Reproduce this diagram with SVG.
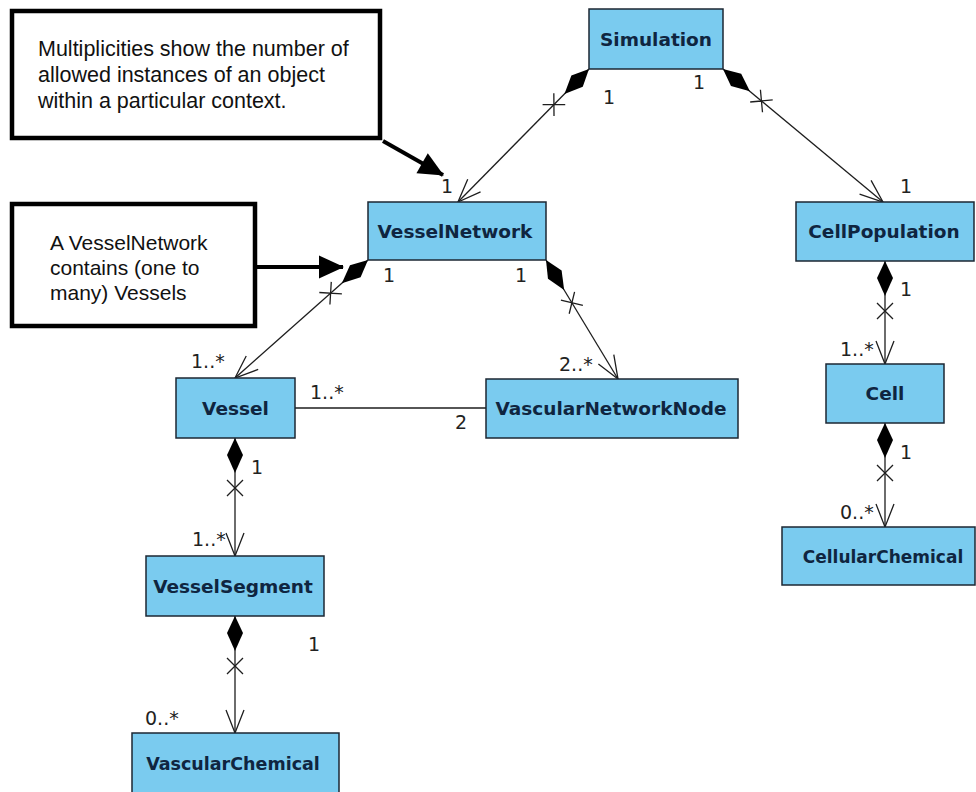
<svg xmlns="http://www.w3.org/2000/svg" width="976" height="792" viewBox="0 0 976 792">
  <style>
    .cls rect { fill: #7acbef; stroke: #1c2733; stroke-width: 1.5; }
    .cls text { font-family: "DejaVu Sans", Verdana, sans-serif; font-weight: bold; font-size: 18.5px; fill: #0f2540; text-anchor: middle; }
    .assoc { fill: none; stroke: #1e1e1e; stroke-width: 1.3; }
    .mult { font-family: "DejaVu Sans", Verdana, sans-serif; font-size: 19px; fill: #222; }
    .note rect { fill: #ffffff; stroke: #000; stroke-width: 4.5; }
    .note text { font-family: "Liberation Sans", Arial, sans-serif; font-size: 21px; fill: #111; }
    .pointer { fill: none; stroke: #000; stroke-width: 4; }
  </style>
  <defs>
    <!-- composition end: filled diamond at the owner plus the non-navigable cross -->
    <marker id="comp" markerUnits="userSpaceOnUse" orient="auto" refX="0" refY="0" markerWidth="70" markerHeight="30" viewBox="-2 -15 70 30" overflow="visible">
      <path d="M0,0 L17,-8 L35,0 L17,8 Z" fill="#000"/>
      <path d="M42,-8 L58,8 M42,8 L58,-8" stroke="#1e1e1e" stroke-width="1.3" fill="none"/>
    </marker>
    <!-- navigable end: open arrowhead -->
    <marker id="open" markerUnits="userSpaceOnUse" orient="auto" refX="0" refY="0" markerWidth="30" markerHeight="30" viewBox="-28 -15 30 30" overflow="visible">
      <path d="M-23,-9 L0,0 L-23,9" stroke="#1e1e1e" stroke-width="1.3" fill="none"/>
    </marker>
    <!-- heavy pointer for the notes -->
    <marker id="solid" markerUnits="userSpaceOnUse" orient="auto" refX="24" refY="0" markerWidth="28" markerHeight="26" viewBox="0 -13 28 26" overflow="visible">
      <path d="M0,-11.5 L25,0 L0,11.5 Z" fill="#000"/>
    </marker>
  </defs>

  <rect width="976" height="792" fill="#fff"/>

  <!-- notes -->
  <g id="note-multiplicities" class="note">
    <rect x="12" y="11" width="368" height="127"/>
    <text x="38" y="56" style="font-size:21.5px">Multiplicities show the number of</text>
    <text x="38" y="82" style="font-size:21.5px">allowed instances of an object</text>
    <text x="38" y="108" style="font-size:21.5px">within a particular context.</text>
  </g>
  <g id="note-vesselnetwork" class="note">
    <rect x="12" y="204" width="243" height="122"/>
    <text x="50" y="250">A VesselNetwork</text>
    <text x="50" y="275">contains (one to</text>
    <text x="50" y="300">many) Vessels</text>
  </g>

  <!-- connectors -->
  <g id="connectors">
    <path class="assoc" d="M589,69 L458,202" marker-start="url(#comp)" marker-end="url(#open)"/>
    <path class="assoc" d="M723,69 L883,202" marker-start="url(#comp)" marker-end="url(#open)"/>
    <path class="assoc" d="M368,260 L235,378" marker-start="url(#comp)" marker-end="url(#open)"/>
    <path class="assoc" d="M546,260 L618,379" marker-start="url(#comp)" marker-end="url(#open)"/>
    <path class="assoc" d="M295,408 L486,408"/>
    <path class="assoc" d="M235,438 L235,556" marker-start="url(#comp)" marker-end="url(#open)"/>
    <path class="assoc" d="M235,616 L235,733" marker-start="url(#comp)" marker-end="url(#open)"/>
    <path class="assoc" d="M885,261 L885,364" marker-start="url(#comp)" marker-end="url(#open)"/>
    <path class="assoc" d="M885,423 L885,527" marker-start="url(#comp)" marker-end="url(#open)"/>

    <!-- note pointers -->
    <path class="pointer" d="M383,141 L443,175" marker-end="url(#solid)"/>
    <path class="pointer" d="M255,267 L343,267" marker-end="url(#solid)"/>

    <!-- multiplicities -->
    <text class="mult" x="603" y="104">1</text>
    <text class="mult" x="693" y="89">1</text>
    <text class="mult" x="441" y="193">1</text>
    <text class="mult" x="900" y="193">1</text>
    <text class="mult" x="383" y="282">1</text>
    <text class="mult" x="515" y="282">1</text>
    <text class="mult" x="559" y="371">2..*</text>
    <text class="mult" x="191" y="368">1..*</text>
    <text class="mult" x="310" y="399">1..*</text>
    <text class="mult" x="455" y="429">2</text>
    <text class="mult" x="251" y="474">1</text>
    <text class="mult" x="192" y="546">1..*</text>
    <text class="mult" x="308" y="651">1</text>
    <text class="mult" x="145" y="725">0..*</text>
    <text class="mult" x="900" y="296">1</text>
    <text class="mult" x="840" y="356">1..*</text>
    <text class="mult" x="900" y="459">1</text>
    <text class="mult" x="840" y="519">0..*</text>
  </g>

  <!-- classes -->
  <g id="Simulation" class="cls">
    <rect x="589" y="9" width="134" height="60"/>
    <text x="656" y="45.5">Simulation</text>
  </g>
  <g id="VesselNetwork" class="cls">
    <rect x="368" y="202" width="178" height="58"/>
    <text x="455" y="237.5">VesselNetwork</text>
  </g>
  <g id="CellPopulation" class="cls">
    <rect x="796" y="202" width="178" height="59"/>
    <text x="884" y="238">CellPopulation</text>
  </g>
  <g id="Vessel" class="cls">
    <rect x="176" y="378" width="119" height="60"/>
    <text x="235.5" y="414.5">Vessel</text>
  </g>
  <g id="VascularNetworkNode" class="cls">
    <rect x="486" y="379" width="252" height="59"/>
    <text x="611" y="415">VascularNetworkNode</text>
  </g>
  <g id="Cell" class="cls">
    <rect x="826" y="364" width="118" height="59"/>
    <text x="885" y="400">Cell</text>
  </g>
  <g id="CellularChemical" class="cls">
    <rect x="782" y="527" width="193" height="58"/>
    <text x="883" y="562.5" style="font-size:17px">CellularChemical</text>
  </g>
  <g id="VesselSegment" class="cls">
    <rect x="146" y="556" width="178" height="60"/>
    <text x="233" y="592.5">VesselSegment</text>
  </g>
  <g id="VascularChemical" class="cls">
    <rect x="132" y="733" width="207" height="62"/>
    <text x="233" y="769.5" style="font-size:17.5px">VascularChemical</text>
  </g>
</svg>
